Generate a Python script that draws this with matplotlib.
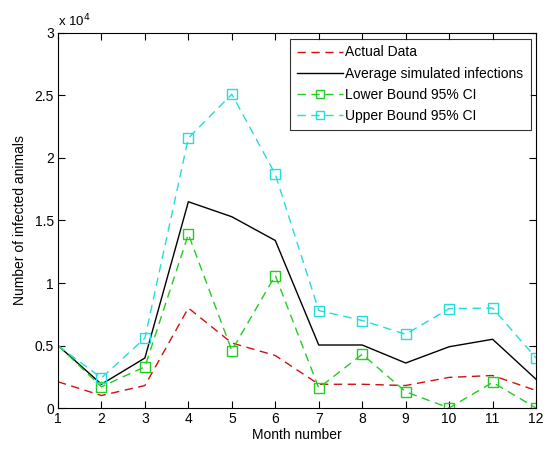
import matplotlib
matplotlib.use("Agg")
import matplotlib.pyplot as plt
from matplotlib.ticker import FuncFormatter

months = list(range(1, 13))
actual = [2100, 1000, 1800, 8000, 5200, 4200, 1900, 1900, 1800, 2450, 2600, 1400]
average = [5000, 1900, 4000, 16500, 15300, 13400, 5040, 5040, 3600, 4900, 5500, 2300]
lower = [5000, 1700, 3300, 13900, 4600, 10600, 1600, 4300, 1300, 0, 2050, 0]
upper = [5000, 2400, 5600, 21600, 25100, 18700, 7800, 7000, 5900, 7950, 8000, 4000]
xticks = list(range(1, 13))
yticks = [0, 5000, 10000, 15000, 20000, 25000, 30000]

plt.rcParams['font.family'] = ['Liberation Sans', 'DejaVu Sans']
fig = plt.figure(figsize=(5.47, 4.5), dpi=100)
ax = fig.add_axes([0.106, 0.0933, 0.874, 0.8334])

ax.plot(months, actual, color='#d01010', linestyle=(0, (6, 4)), lw=1.0, label='Actual Data')
ax.plot(months, average, color='black', linestyle='-', lw=1.0, label='Average simulated infections')
ax.plot(months, lower, color='#22cc22', linestyle=(0, (6, 4)), lw=1.0, marker='s', ms=7,
        mfc='none', mec='#22cc22', markevery=list(range(1, 12)), label='Lower Bound 95% CI')
ax.plot(months, upper, color='#22dddd', linestyle=(0, (6, 4)), lw=1.0, marker='s', ms=7,
        mfc='none', mec='#22dddd', markevery=list(range(1, 12)), label='Upper Bound 95% CI')

ax.set_xlim(1, 12)
ax.set_ylim(0, 30000)
ax.set_xticks(xticks)
ax.set_yticks(yticks)
ax.yaxis.set_major_formatter(FuncFormatter(lambda v, p: ('%g' % (v / 1e4))))
ax.tick_params(direction='in', top=True, right=True, labelsize=10, length=5, pad=3)
for s in ax.spines.values():
    s.set_linewidth(0.8)
ax.text(0.0, 1.01, r'x 10$^4$', transform=ax.transAxes, fontsize=9.5, ha='left', va='bottom')

ax.set_xlabel('Month number', fontsize=10, labelpad=1)
ax.set_ylabel('Number of infected animals', fontsize=10, labelpad=5)

leg = ax.legend(loc='upper right', fontsize=10, frameon=True, fancybox=False, edgecolor='black',
                handlelength=3.3, borderaxespad=0.4, labelspacing=0.52, handletextpad=0.2,
                borderpad=0.5, markerscale=0.8)
leg.get_frame().set_linewidth(0.8)

fig.savefig('out.png', dpi=100)
